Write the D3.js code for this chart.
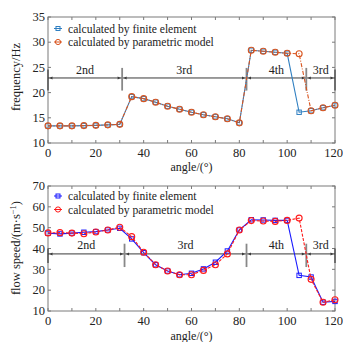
<!DOCTYPE html>
<html><head><meta charset="utf-8">
<script src="https://cdn.jsdelivr.net/npm/d3@7"></script>
<style>body{margin:0;background:#fff}svg{display:block}</style>
</head><body><svg id="c" width="343" height="342"></svg>
<script>
const angles = [0,5,10,15,20,25,30,35,40,45,50,55,60,65,70,75,80,85,90,95,100,105,110,115,120];
const freqFE =  [13.4,13.4,13.4,13.45,13.5,13.6,13.7,19.2,18.8,18.1,17.3,16.7,16.1,15.6,15.2,14.8,14.0,28.4,28.2,28.0,27.8,16.1,16.4,17.0,17.5];
const freqPM =  [13.4,13.4,13.4,13.45,13.5,13.6,13.7,19.2,18.8,18.1,17.3,16.7,16.1,15.6,15.2,14.8,14.0,28.4,28.2,28.0,27.8,27.7,16.4,17.0,17.5];
const speedFE = [47.3,47.0,47.4,47.8,48.1,48.9,49.7,44.6,38.0,32.2,29.2,27.4,28.1,30.2,33.4,38.8,48.9,53.8,53.7,53.5,53.5,27.1,26.3,14.2,14.6];
const speedPM = [47.5,47.6,47.4,47.1,47.9,48.9,50.2,45.7,38.2,32.2,29.2,27.4,27.4,29.5,32.2,37.4,48.9,53.4,53.2,53.0,53.5,54.6,25.2,14.2,15.4];
const xTicks = [0,20,40,60,80,100,120];
const freqTicks = [10,15,20,25,30,35];
const speedTicks = [10,20,30,40,50,60,70];
const stageNames = ["2nd","3rd","4th","3rd"];
const freqBounds = [0,31,83,108,120];
const speedBounds = [0,32,83,108,120];
const legendLabels = ["calculated by finite element","calculated by parametric model"];

const svg = d3.select("#c");
const x = d3.scaleLinear().domain([0,120]).range([48,335]);
const txtCol = "#222";
const FONT = "Liberation Serif";

function panel(o){
  const y = d3.scaleLinear().domain(o.ydom).range([o.bottom,o.top]);
  const g = svg.append("g");
  const frame = "#7a7a7a";
  const T = (sel)=>sel.attr("fill",txtCol).attr("font-family",FONT);
  g.append("rect").attr("x",x(0)).attr("y",y(o.ydom[1])).attr("width",x(120)-x(0)).attr("height",y(o.ydom[0])-y(o.ydom[1]))
    .attr("fill","none").attr("stroke",frame).attr("stroke-width",1);
  d3.range(0,121,10).forEach(v=>{
    g.append("line").attr("x1",x(v)).attr("x2",x(v)).attr("y1",o.bottom).attr("y2",o.bottom-3).attr("stroke",frame);
    g.append("line").attr("x1",x(v)).attr("x2",x(v)).attr("y1",o.top).attr("y2",o.top+3).attr("stroke",frame);
  });
  o.yticks.forEach(v=>{
    g.append("line").attr("x1",x(0)).attr("x2",x(0)+3).attr("y1",y(v)).attr("y2",y(v)).attr("stroke",frame);
    g.append("line").attr("x1",x(120)).attr("x2",x(120)-3).attr("y1",y(v)).attr("y2",y(v)).attr("stroke",frame);
    T(g.append("text")).attr("x",x(0)-3).attr("y",y(v)+4.2).attr("text-anchor","end").attr("font-size",12.5).text(v);
  });
  xTicks.forEach(v=>{
    T(g.append("text")).attr("x",Math.min(x(v),333.5)).attr("y",o.bottom+13.5).attr("text-anchor","middle").attr("font-size",12.5).text(v);
  });
  T(g.append("text")).attr("x",x(60)).attr("y",o.bottom+o.xlabOff).attr("text-anchor","middle").attr("font-size",12).text("angle/(°)");
  const yl = T(g.append("text")).attr("transform",`translate(20,${o.ylabY}) rotate(-90)`).attr("text-anchor","middle").attr("font-size",12.5);
  o.ylabel(yl);

  const ly = y(o.stageY);
  const dark = "#3a3a3a";
  g.append("line").attr("x1",x(0)).attr("x2",x(120)).attr("y1",ly).attr("y2",ly).attr("stroke",dark).attr("stroke-width",1);
  [0,120].forEach(v=>{
    g.append("line").attr("x1",x(v)).attr("x2",x(v)).attr("y1",y(o.endMark[0])).attr("y2",y(o.endMark[1])).attr("stroke",dark).attr("stroke-width",1.2);
  });
  o.bounds.slice(1,-1).forEach(v=>{
    g.append("line").attr("x1",x(v)).attr("x2",x(v)).attr("y1",y(o.bMark[0])).attr("y2",y(o.bMark[1])).attr("stroke","#888").attr("stroke-width",1.8);
  });
  for(let i=0;i<o.bounds.length-1;i++){
    const a = x(o.bounds[i])+1.5, b = x(o.bounds[i+1])-1.5;
    g.append("path").attr("d",`M${a},${ly}l3,-1.5l0,3z`).attr("fill",dark);
    g.append("path").attr("d",`M${b},${ly}l-3,-1.5l0,3z`).attr("fill",dark);
    T(g.append("text")).attr("x",(x(o.bounds[i])+x(o.bounds[i+1]))/2).attr("y",ly-o.stageOff).attr("text-anchor","middle").attr("font-size",12).text(stageNames[i]);
  }

  const line = d3.line().x((d,i)=>x(angles[i])).y(d=>y(d));
  g.append("path").datum(o.fe).attr("d",line).attr("fill","none").attr("stroke",o.c1).attr("stroke-width",1.1);
  g.selectAll(null).data(o.fe).join("rect").attr("x",(d,i)=>x(angles[i])-2.2).attr("y",d=>y(d)-2.2).attr("width",4.4).attr("height",4.4)
    .attr("fill","none").attr("stroke",o.c1).attr("stroke-width",1);
  g.append("path").datum(o.pm).attr("d",line).attr("fill","none").attr("stroke",o.c2).attr("stroke-width",1.1).attr("stroke-dasharray",o.dash);
  g.selectAll(null).data(o.pm).join("circle").attr("cx",(d,i)=>x(angles[i])).attr("cy",d=>y(d)).attr("r",3)
    .attr("fill","none").attr("stroke",o.c2).attr("stroke-width",1.1);

  const lx = 58, ly1 = o.top+o.leg[0], ly2 = o.top+o.leg[1];
  g.append("line").attr("x1",lx-4).attr("x2",lx+4).attr("y1",ly1).attr("y2",ly1).attr("stroke",o.c1);
  g.append("rect").attr("x",lx-2).attr("y",ly1-2).attr("width",4).attr("height",4).attr("fill","none").attr("stroke",o.c1);
  g.append("line").attr("x1",lx-4).attr("x2",lx+4).attr("y1",ly2).attr("y2",ly2).attr("stroke",o.c2);
  g.append("circle").attr("cx",lx).attr("cy",ly2).attr("r",2.6).attr("fill","none").attr("stroke",o.c2);
  T(g.append("text")).attr("x",68).attr("y",ly1+4).attr("font-size",11.6).text(legendLabels[0]);
  T(g.append("text")).attr("x",68).attr("y",ly2+4).attr("font-size",11.6).text(legendLabels[1]);
}

panel({ydom:[10,35], top:17, bottom:143, yticks:freqTicks, fe:freqFE, pm:freqPM, c1:"#2f7fc1", c2:"#d9541e", dash:"4,1.5,1,1.5",
  stageY:22.9, endMark:[24.6,20.4], bMark:[24.9,20.4], bounds:freqBounds, stageOff:3.5, leg:[11.5,25], xlabOff:27.5, ylabY:77,
  ylabel:t=>t.text("frequency/Hz")});
panel({ydom:[10,70], top:186, bottom:311, yticks:speedTicks, fe:speedFE, pm:speedPM, c1:"#1a1aff", c2:"#ff1a1a", dash:"3,1.5",
  stageY:37.4, endMark:[40,33], bMark:[42.3,31.1], bounds:speedBounds, stageOff:4.5, leg:[10,23.5], xlabOff:29, ylabY:248,
  ylabel:t=>{t.text("flow speed/(m·s"); t.append("tspan").attr("dy",-4).attr("font-size",8.5).text("−1"); t.append("tspan").attr("dy",4).text(")");}});
</script></body></html>
